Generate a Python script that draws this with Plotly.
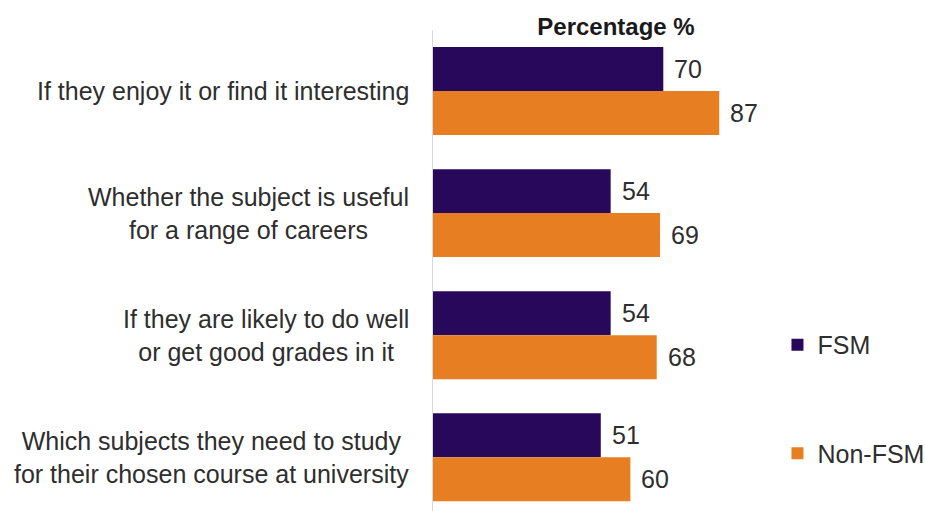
import plotly.graph_objects as go

categories = [
    "If they enjoy it or find it interesting",
    "Whether the subject is useful<br>for a range of careers",
    "If they are likely to do well<br>or get good grades in it",
    "Which subjects they need to study<br>for their chosen course at university",
]
fsm = [70, 54, 54, 51]
non_fsm = [87, 69, 68, 60]

PURPLE = "#27085a"
ORANGE = "#e87e22"
TEXT = "#2e2e2e"
FONT = "Liberation Sans, Arial, sans-serif"

pos = list(range(len(categories)))
bargap = 0.28
half = (1 - bargap) / 4  # centre offset of each bar within its group

fig = go.Figure()
fig.add_trace(go.Bar(y=pos, x=fsm, orientation="h", name="FSM",
                     marker=dict(color=PURPLE, line=dict(width=0)),
                     legendgroup="a"))
fig.add_trace(go.Bar(y=pos, x=non_fsm, orientation="h", name="Non-FSM",
                     marker=dict(color=ORANGE, line=dict(width=0)),
                     legendgroup="b"))

annotations = []
# category labels, centred line by line, right edge next to the axis
for i, cat in enumerate(categories):
    annotations.append(dict(
        x=0, xref="paper", y=i, yref="y", text=cat, showarrow=False,
        xanchor="right", yanchor="middle", align="center", xshift=-22,
        font=dict(family=FONT, size=25, color=TEXT)))
# value labels at the end of each bar
for i in pos:
    for vals, off in ((fsm, -half), (non_fsm, half)):
        annotations.append(dict(
            x=vals[i], xref="x", y=i + off, yref="y", text=str(vals[i]),
            showarrow=False, xanchor="left", yanchor="middle", xshift=9,
            font=dict(family=FONT, size=25, color=TEXT)))

fig.update_layout(
    width=925, height=511,
    margin=dict(l=433, r=163, t=30, b=0, autoexpand=False),
    paper_bgcolor="white", plot_bgcolor="white",
    barmode="group", bargap=bargap, bargroupgap=0,
    title=dict(text="<b>Percentage %</b>", x=616 / 925, xanchor="center",
               y=1 - 27 / 511, yanchor="middle",
               font=dict(family=FONT, size=24, color="#1a1a1a")),
    xaxis=dict(range=[0, 100], visible=False),
    yaxis=dict(range=[3.44, -0.5], showticklabels=False, showgrid=False,
               zeroline=False, showline=True, linecolor="#d9d9d9",
               linewidth=1, ticks=""),
    legend=dict(x=1.047, xanchor="left", y=0.393, yanchor="top",
                traceorder="grouped", tracegroupgap=73,
                font=dict(family=FONT, size=25, color=TEXT),
                bgcolor="rgba(0,0,0,0)"),
    annotations=annotations,
    showlegend=True,
)

fig.write_html("out.html")
